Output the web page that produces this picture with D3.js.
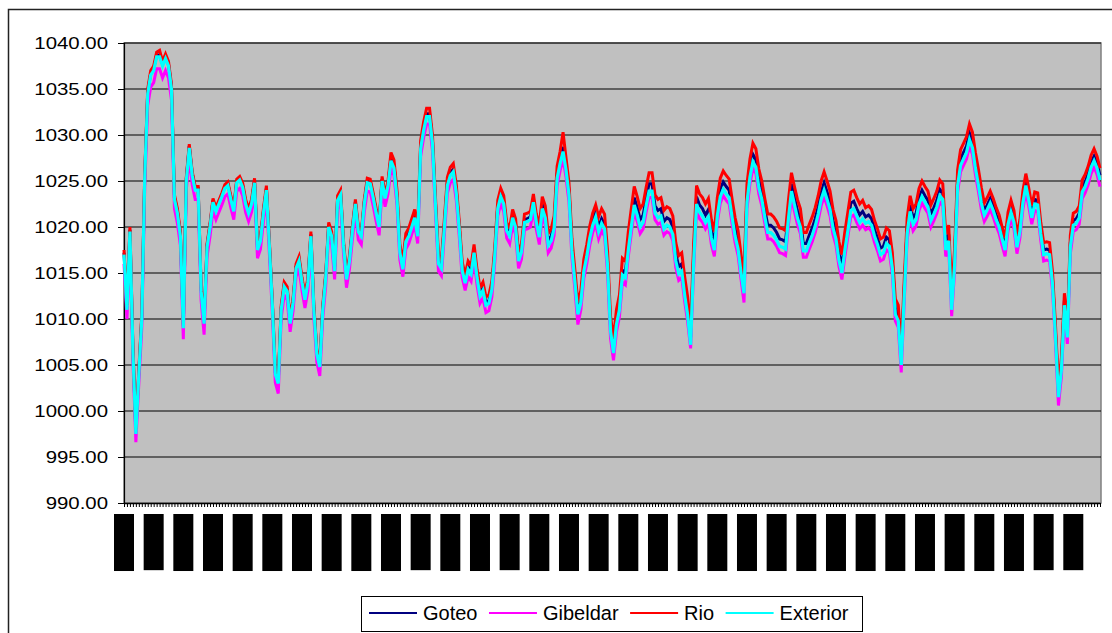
<!DOCTYPE html>
<html><head><meta charset="utf-8">
<script src="https://cdn.jsdelivr.net/npm/d3@7"></script>
<style>body{margin:0;background:#fff}svg{display:block}</style>
</head><body>
<svg id="c" width="1112" height="633"></svg>
<script>
// ---- data (daily pressure, hPa) ----
const seriesNames = ["Goteo","Gibeldar","Rio","Exterior"];
const seriesColors = ["#000080","#FF00FF","#FF0000","#00FFFF"];
const yTicks = [990,995,1000,1005,1010,1015,1020,1025,1030,1035,1040];
const labelDays = [0,10,20,30,40,50,60,70,80,90,100,110,120,130,140,150,160,170,180,190,200,210,220,230,240,250,260,270,280,290,300,310,320];
const tickLabels = ["01/01/2007","11/01/2007","21/01/2007","31/01/2007","10/02/2007","20/02/2007","02/03/2007","12/03/2007","22/03/2007","01/04/2007","11/04/2007","21/04/2007","01/05/2007","11/05/2007","21/05/2007","31/05/2007","10/06/2007","20/06/2007","30/06/2007","10/07/2007","20/07/2007","30/07/2007","09/08/2007","19/08/2007","29/08/2007","08/09/2007","18/09/2007","28/09/2007","08/10/2007","18/10/2007","28/10/2007","07/11/2007","17/11/2007"];

const exterior = [
1017,1011,1019.5,1006.5,997.5,1004,1010,1025.5,1034.5,1036.5,
1037,1038.5,1038.5,1037.5,1038.3,1037.5,1035,1023,1021.5,1019,
1009,1025,1028.6,1025.6,1024,1024,1013,1009.5,1017.8,1020,
1022.7,1021.7,1022.5,1023.3,1024.2,1024.5,1023,1021.7,1024.8,1025.1,
1024.3,1022.5,1021.5,1022.5,1024.8,1017.5,1018.5,1021.5,1024,1018,
1011.5,1004,1003,1011,1013.5,1013,1009.5,1011.8,1015.5,1016.3,
1014,1012.1,1014,1019,1011,1006.2,1004.8,1011,1014.5,1020,
1019,1015.2,1022.9,1023.5,1018,1014.3,1016.3,1019.6,1022.5,1019.5,
1019,1022.5,1024.8,1024.7,1023.2,1021.5,1020,1025,1023.1,1024.5,
1027.2,1026.4,1023.2,1017.2,1015.4,1018.4,1019,1020,1021,1019,
1028.5,1030.5,1032,1032,1029,1022.3,1016,1015.5,1020,1024.5,
1025.6,1026,1023.7,1019.8,1015.3,1013.9,1015.4,1014.9,1017.2,1014.5,
1012.5,1013.1,1011.5,1011.7,1013.2,1017,1022,1023.3,1022.5,1019.6,
1019,1021,1020,1016.3,1017.3,1020.5,1020.6,1020.8,1022.7,1020.5,
1018.9,1022,1021,1018,1018.5,1019.9,1025.3,1026.9,1028.2,1026.2,
1023.5,1017.4,1014,1010.5,1011.8,1015.2,1016.8,1018.8,1020.2,1021.1,
1019.5,1020.4,1019.8,1015.8,1008.7,1006.3,1009.4,1011,1014.8,1014.5,
1017.5,1020,1022.4,1021.3,1020,1020.5,1022.3,1023.9,1023.9,1021.5,
1021,1021.2,1019.8,1020.2,1020,1019.2,1016.3,1014.9,1015.2,1012.6,
1010.4,1007.2,1016,1022.5,1021.6,1021.2,1020.5,1021.1,1018.8,1017.5,
1021.2,1023.3,1024.1,1023.6,1023.2,1021,1019,1017.6,1015,1012.8,
1022.7,1025.4,1027.1,1026.5,1024.3,1023,1021.1,1019.4,1019.4,1019.1,
1018.6,1017.9,1017.8,1017.6,1021,1023.9,1022.4,1021,1020,1017.4,
1017.4,1018.3,1019.1,1020.1,1021.4,1023,1024,1023,1021.9,1019.9,
1018.7,1016.4,1015,1017.5,1019.6,1021.8,1022,1021.2,1020.5,1020.9,
1020.4,1020.6,1020.2,1019,1018.1,1017,1017.2,1018.2,1017.9,1015.5,
1010.5,1009.8,1005,1012.5,1019.3,1021.7,1020.3,1020.8,1022.5,1023.3,
1022.7,1022.2,1020.7,1021.4,1022.2,1023.4,1023,1017.5,1018.5,1011,
1016,1024.5,1026.7,1027.4,1028.1,1029.5,1028.6,1026.4,1024.6,1022.6,
1021.3,1021.9,1022.6,1021.8,1020.8,1020,1018.7,1017.5,1020.3,1021.6,
1020.5,1017.8,1019.5,1022.6,1024.5,1022.9,1021,1022.5,1022.4,1019.3,
1017,1017.1,1017,1013.8,1008,1001.5,1004.5,1011.5,1008,1017.8,
1020.2,1020.4,1021,1023.8,1024.4,1025.3,1026.5,1027.2,1026.4,1025.1];

const rio = [
1017.5,1011.5,1020,1007,998,1004.5,1010.5,1026,1035,1037,
1037.5,1039,1039.2,1038,1038.8,1038,1035.5,1023.5,1022,1019.5,
1009.4,1025.4,1029,1026,1024.4,1024.4,1013.4,1009.9,1018.2,1020.4,
1023.1,1022.1,1022.9,1023.7,1024.6,1024.9,1023.4,1022.1,1025.2,1025.5,
1024.8,1023,1022,1023,1025.3,1018,1019,1022,1024.5,1018.5,
1012,1004.5,1003.5,1011.5,1014,1013.5,1010,1012.3,1016,1016.8,
1014.5,1012.6,1014.5,1019.5,1011.5,1006.7,1005.3,1011.5,1015,1020.5,
1019.5,1015.7,1023.4,1024,1018.5,1014.8,1016.8,1020.1,1023,1020,
1019.5,1023,1025.3,1025.2,1023.7,1022,1020.5,1025.5,1023.6,1025,
1028.1,1027.3,1024.1,1018.1,1016.3,1019.3,1019.9,1020.9,1021.9,1019.9,
1029.4,1031.4,1032.9,1032.9,1029.9,1023.2,1016.9,1016.4,1020.9,1025.4,
1026.5,1026.9,1024.6,1020.7,1016.2,1014.8,1016.3,1015.8,1018.1,1015.4,
1013.4,1014,1012.4,1012.6,1014.1,1017.9,1022.9,1024.2,1023.4,1020.5,
1019.9,1021.9,1020.9,1017.2,1018.2,1021.4,1021.5,1021.7,1023.6,1021.4,
1020.2,1023.3,1022.3,1019.3,1019.8,1021.2,1026.6,1028.2,1030.3,1027.5,
1024.8,1018.7,1015.3,1011.8,1013.1,1016.5,1018.1,1020.1,1021.5,1022.4,
1021.1,1022,1021.4,1017.4,1010.3,1007.9,1011,1012.6,1016.6,1016.3,
1019.5,1022,1024.4,1023.3,1022,1022.5,1024.3,1025.9,1025.9,1023.5,
1023,1023.2,1021.8,1022.2,1022,1021.2,1018.3,1016.9,1017.2,1014.6,
1012.4,1009.2,1018,1024.5,1023.6,1023.2,1022.5,1023.1,1020.8,1019.5,
1023.2,1025.3,1026.1,1025.6,1025.2,1023,1021,1019.6,1017,1014.8,
1024.7,1027.4,1029.1,1028.5,1026.3,1025,1023.1,1021.4,1021.4,1021.1,
1020.6,1019.9,1019.8,1019.6,1023,1025.9,1024.4,1023,1022,1019.4,
1019.4,1020.3,1021.1,1022.1,1023.4,1025,1026,1025,1023.9,1021.9,
1020.7,1018.4,1017,1019.5,1021.6,1023.8,1024,1023.2,1022.5,1022.9,
1022.1,1022.3,1021.9,1020.7,1019.8,1018.7,1018.9,1019.9,1019.6,1017.2,
1012.2,1011.5,1006.7,1014.2,1021,1023.4,1022,1022.5,1024.2,1025,
1024.4,1023.9,1022.4,1023.1,1023.9,1025.1,1024.7,1019.2,1020.2,1012.7,
1017.7,1026.2,1028.4,1029.1,1029.8,1031.2,1030.3,1028.1,1026.3,1024.3,
1022.6,1023.2,1023.9,1023.1,1022.1,1021.3,1020,1018.8,1021.6,1022.9,
1021.8,1019.1,1020.8,1023.9,1025.8,1024.2,1022.3,1023.8,1023.7,1020.6,
1018.3,1018.4,1018.3,1015.1,1009.3,1002.8,1005.8,1012.8,1009.3,1019.1,
1021.5,1021.7,1022.3,1025.1,1025.7,1026.6,1027.8,1028.5,1027.7,1026.4];

const goteo = [
1017.2,1011.2,1019.7,1006.7,997.7,1004.2,1010.2,1025.7,1034.7,1036.7,
1037.2,1038.7,1038.7,1037.7,1038.5,1037.7,1035.2,1023.2,1021.7,1019.2,
1009.2,1025.2,1028.8,1025.8,1024.2,1024.2,1013.2,1009.7,1018,1020.2,
1022.9,1021.9,1022.7,1023.5,1024.4,1024.7,1023.2,1021.9,1025,1025.3,
1024.5,1022.7,1021.7,1022.7,1025,1017.7,1018.7,1021.7,1024.2,1018.2,
1011.7,1004.2,1003.2,1011.2,1013.7,1013.2,1009.7,1012,1015.7,1016.5,
1014.2,1012.3,1014.2,1019.2,1011.2,1006.4,1005,1011.2,1014.7,1020.2,
1019.2,1015.4,1023.1,1023.7,1018.2,1014.5,1016.5,1019.8,1022.7,1019.7,
1019.2,1022.7,1025,1024.9,1023.4,1021.7,1020.2,1025.2,1023.3,1024.7,
1027.5,1026.7,1023.5,1017.5,1015.7,1018.7,1019.3,1020.3,1021.3,1019.3,
1028.8,1030.8,1032.3,1032.3,1029.3,1022.6,1016.3,1015.8,1020.3,1024.8,
1025.9,1026.3,1024,1020.1,1015.6,1014.2,1015.7,1015.2,1017.5,1014.8,
1012.8,1013.4,1011.8,1012,1013.5,1017.3,1022.3,1023.6,1022.8,1019.9,
1019.3,1021.3,1020.3,1016.6,1017.6,1020.8,1020.9,1021.1,1023,1020.8,
1019.4,1022.5,1021.5,1018.5,1019,1020.4,1025.8,1027.4,1028.7,1026.7,
1024,1017.9,1014.5,1011,1012.3,1015.7,1017.3,1019.3,1020.7,1021.6,
1020,1020.9,1020.3,1016.3,1009.2,1006.8,1009.9,1011.5,1015.3,1015,
1018.3,1020.8,1023.2,1022.1,1020.8,1021.3,1023.1,1024.7,1024.7,1022.3,
1021.8,1022,1020.6,1021,1020.8,1020,1017.1,1015.7,1016,1013.4,
1011.2,1008,1016.8,1023.3,1022.4,1022,1021.3,1021.9,1019.6,1018.3,
1022,1024.1,1024.9,1024.4,1024,1021.8,1019.8,1018.4,1015.8,1013.6,
1023.5,1026.2,1027.9,1027.3,1025.1,1023.8,1021.9,1020.2,1020.2,1019.9,
1019.4,1018.7,1018.6,1018.4,1021.8,1024.7,1023.2,1021.8,1020.8,1018.2,
1018.2,1019.1,1019.9,1020.9,1022.2,1023.8,1024.8,1023.8,1022.7,1020.7,
1019.5,1017.2,1015.8,1018.3,1020.4,1022.6,1022.8,1022,1021.3,1021.7,
1021.1,1021.3,1020.9,1019.7,1018.8,1017.7,1017.9,1018.9,1018.6,1016.2,
1011.2,1010.5,1005.7,1013.2,1020,1022.4,1021,1021.5,1023.2,1024,
1023.4,1022.9,1021.4,1022.1,1022.9,1024.1,1023.7,1018.2,1019.2,1011.7,
1016.7,1025.2,1027.4,1028.1,1028.8,1030.2,1029.3,1027.1,1025.3,1023.3,
1021.8,1022.4,1023.1,1022.3,1021.3,1020.5,1019.2,1018,1020.8,1022.1,
1021,1018.3,1020,1023.1,1025,1023.4,1021.5,1023,1022.9,1019.8,
1017.5,1017.6,1017.5,1014.3,1008.5,1002,1005,1012,1008.5,1018.3,
1020.7,1020.9,1021.5,1024.3,1024.9,1025.8,1027,1027.7,1026.9,1025.6];

const gibeldar = [
1016,1010,1018.5,1005.5,996.6,1003,1009,1024.4,1033.2,1035.2,
1035.7,1037.2,1037.2,1036.2,1037,1036.2,1033.8,1022,1020.4,1018,
1007.8,1024,1027.6,1024.6,1023,1023,1012,1008.3,1016.8,1019,
1021.8,1020.8,1021.6,1022.4,1023.3,1023.6,1022.1,1020.8,1023.9,1024.2,
1023.4,1021.6,1020.6,1021.6,1023.9,1016.6,1017.6,1020.6,1023.1,1017.1,
1010.6,1003.1,1001.9,1010.1,1012.6,1012.1,1008.6,1010.9,1014.6,1015.4,
1013.1,1011.2,1013.1,1018.1,1010.1,1005.3,1003.8,1010.1,1013.6,1019.1,
1018.1,1014.3,1022,1022.6,1017.1,1013.4,1015.4,1018.7,1021.6,1018.6,
1018.1,1021.6,1023.9,1023.8,1022.3,1020.6,1019.1,1024.1,1022.2,1023.6,
1026.4,1025.6,1022.4,1016.4,1014.6,1017.6,1018.2,1019.2,1020.2,1018.2,
1027.7,1029.7,1031.2,1031.2,1028.2,1021.5,1015.2,1014.7,1019.2,1023.7,
1024.8,1025.2,1022.9,1019,1014.5,1013.1,1014.6,1014.1,1016.4,1013.7,
1011.7,1012.3,1010.7,1010.9,1012.4,1016.2,1021.2,1022.5,1021.7,1018.8,
1018.2,1020.2,1019.2,1015.5,1016.5,1019.7,1019.8,1020,1021.9,1019.7,
1018.1,1021.2,1020.2,1017.2,1017.7,1019.1,1024.5,1026.1,1027.4,1025.4,
1022.7,1016.6,1013.2,1009.4,1011,1014.4,1016,1018,1019.4,1020.3,
1018.7,1019.6,1019,1015,1007.9,1005.5,1008.6,1010.2,1014,1013.7,
1016.8,1019.3,1021.7,1020.6,1019.3,1019.8,1021.6,1023.2,1023.2,1020.8,
1020.3,1020.5,1019.1,1019.5,1019.3,1018.5,1015.6,1014.2,1014.5,1011.9,
1009.7,1006.8,1015.3,1021.8,1020.9,1020.5,1019.8,1020.4,1018.1,1016.8,
1020.5,1022.6,1023.4,1022.9,1022.5,1020.3,1018.3,1016.9,1014.3,1011.8,
1022,1024.7,1026.4,1025.8,1023.6,1022.3,1020.4,1018.7,1018.7,1018.4,
1017.9,1017.2,1017.1,1016.9,1020.3,1023.2,1021.7,1020.3,1019.3,1016.7,
1016.7,1017.6,1018.4,1019.4,1020.7,1022.3,1023.3,1022.3,1021.2,1019.2,
1018,1015.7,1014.3,1016.8,1018.9,1021.1,1021.3,1020.5,1019.8,1020.2,
1019.7,1019.9,1019.5,1018.3,1017.4,1016.3,1016.5,1017.5,1017.2,1014.8,
1009.8,1009.1,1004.2,1011.8,1018.6,1021,1019.6,1020.1,1021.8,1022.6,
1022,1021.5,1020,1020.7,1021.5,1022.7,1022.3,1016.8,1017.8,1010.3,
1015.3,1023.8,1026,1026.7,1027.4,1028.8,1027.9,1025.7,1023.9,1021.9,
1020.6,1021.2,1021.9,1021.1,1020.1,1019.3,1018,1016.8,1019.6,1020.9,
1019.8,1017.1,1018.8,1021.9,1023.8,1022.2,1020.3,1021.8,1021.7,1018.6,
1016.3,1016.4,1016.3,1013.1,1007.3,1000.6,1003.8,1010.8,1007.3,1017.1,
1019.5,1019.7,1020.3,1023.1,1023.7,1024.6,1025.8,1026.5,1025.7,1024.4];

const seriesValues = [goteo, gibeldar, rio, exterior];

// ---- drawing ----
const svg = d3.select("#c");
const plot = {l:124, r:1101, t:43, b:503};
const nDays = exterior.length;
const x = d3.scaleLinear().domain([0, nDays - 1]).range([plot.l, plot.r - 1]);
const y = d3.scaleLinear().domain([990, 1040]).range([plot.b, plot.t]);
const font = "Arial, 'Liberation Sans', sans-serif";

// chart area border
svg.append("rect").attr("x", 8.5).attr("y", 9.5).attr("width", 1200).attr("height", 700)
  .attr("fill", "#fff").attr("stroke", "#222").attr("stroke-width", 1.5);

// plot area
svg.append("rect").attr("x", plot.l).attr("y", plot.t)
  .attr("width", plot.r - plot.l).attr("height", plot.b - plot.t)
  .attr("fill", "#C0C0C0").attr("stroke", "#808080").attr("stroke-width", 1.5);

// gridlines
svg.append("g").selectAll("line").data(yTicks.slice(1)).join("line")
  .attr("x1", plot.l).attr("x2", plot.r)
  .attr("y1", d => y(d)).attr("y2", d => y(d))
  .attr("stroke", "#000").attr("stroke-width", 1);

// y axis
const yAxis = svg.append("g").attr("transform", `translate(${plot.l},0)`)
  .call(d3.axisLeft(y).tickValues(yTicks).tickSize(6).tickFormat(""));
yAxis.select(".domain").attr("stroke", "#000").attr("stroke-width", 1.2);
yAxis.selectAll(".tick line").attr("stroke", "#000");
svg.append("g").selectAll("text").data(yTicks).join("text")
  .attr("transform", d => `translate(108,${y(d) + 6}) scale(1.2,1)`)
  .attr("text-anchor", "end")
  .attr("font-family", font).attr("font-size", 17).attr("fill", "#000")
  .text(d => d.toFixed(2));

// series lines
const line = d3.line().x((d, i) => x(i)).y(d => y(d));
svg.append("g").selectAll("path").data(seriesValues).join("path")
  .attr("d", d => line(d))
  .attr("fill", "none")
  .attr("stroke", (d, i) => seriesColors[i])
  .attr("stroke-width", (d, i) => i === 3 ? 3.2 : 3);

// x axis (dense category ticks)
const xAxis = svg.append("g").attr("transform", `translate(0,${plot.b})`)
  .call(d3.axisBottom(x).tickValues(d3.range(0, nDays)).tickSize(4).tickSizeOuter(0).tickFormat(""));
xAxis.select(".domain").attr("stroke", "#000").attr("stroke-width", 1.5);
xAxis.selectAll(".tick line").attr("stroke", "#000").attr("stroke-width", 1);

// x labels (rotated dates, rendered as solid black blocks like the reference)
const lab = svg.append("g");
labelDays.forEach((d, k) => {
  const cx = x(d);
  const g = lab.append("g");
  const r = g.append("rect").attr("fill", "#000");
  const t = g.append("text")
    .attr("transform", `translate(${cx},514) rotate(-90)`)
    .attr("text-anchor", "end").attr("dominant-baseline", "central")
    .attr("font-family", font).attr("font-size", 11.4).attr("fill", "#000")
    .text(tickLabels[k]);
  const len = t.node().getComputedTextLength();
  r.attr("x", cx - 10).attr("y", 514).attr("width", 20).attr("height", len);
});

// legend
const leg = svg.append("g");
leg.append("rect").attr("x", 361.5).attr("y", 596.5).attr("width", 501).attr("height", 35)
  .attr("fill", "#fff").attr("stroke", "#000").attr("stroke-width", 1);
let lx = 369;
seriesNames.forEach((n, i) => {
  leg.append("line").attr("x1", lx).attr("x2", lx + 48).attr("y1", 613).attr("y2", 613)
    .attr("stroke", seriesColors[i]).attr("stroke-width", 2);
  const t = leg.append("text").attr("x", lx + 54).attr("y", 620)
    .attr("font-family", font).attr("font-size", 20).attr("fill", "#000").text(n);
  lx += 54 + t.node().getComputedTextLength() + 11.5;
});
</script>
</body></html>
